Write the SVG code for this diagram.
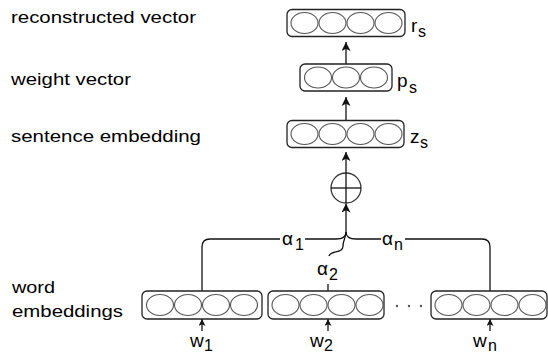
<svg xmlns="http://www.w3.org/2000/svg" width="548" height="355" viewBox="0 0 548 355">
<style>
.box{fill:#fff;stroke:#222;stroke-width:1.3}
.cell{fill:none;stroke:#555;stroke-width:1.1}
.ln{fill:none;stroke:#111;stroke-width:1.3}
.lbl{font-family:"Liberation Sans",Arial,sans-serif;font-size:17px;fill:#000}
.sym{font-family:"Liberation Sans",Arial,sans-serif;font-size:19px;fill:#000}
.sub{font-family:"Liberation Sans",Arial,sans-serif;font-size:16px;fill:#000}
</style>
<defs>
<marker id="ah" viewBox="0 0 10 10" refX="10" refY="5" markerWidth="9" markerHeight="9" markerUnits="userSpaceOnUse" orient="auto">
<path d="M0,0 L10,5 L0,10 L2.5,5 z" fill="#111"/>
</marker>
<marker id="ahs" viewBox="0 0 10 10" refX="10" refY="5" markerWidth="7" markerHeight="7" markerUnits="userSpaceOnUse" orient="auto">
<path d="M0,0 L10,5 L0,10 L2.5,5 z" fill="#111"/>
</marker>
</defs>
<rect width="548" height="355" fill="#fff"/>

<g id="labels">
<text class="lbl" x="11" y="23" textLength="185" lengthAdjust="spacingAndGlyphs">reconstructed vector</text>
<text class="lbl" x="11" y="85" textLength="120" lengthAdjust="spacingAndGlyphs">weight vector</text>
<text class="lbl" x="11" y="142" textLength="190" lengthAdjust="spacingAndGlyphs">sentence embedding</text>
<text class="lbl" x="12" y="293" textLength="43" lengthAdjust="spacingAndGlyphs">word</text>
<text class="lbl" x="12" y="317" textLength="111" lengthAdjust="spacingAndGlyphs">embeddings</text>
</g>

<g id="connectors">
<line class="ln" x1="346" y1="64" x2="346" y2="42" marker-end="url(#ah)"/>
<line class="ln" x1="346" y1="120.5" x2="346" y2="97" marker-end="url(#ah)"/>
<line class="ln" x1="346" y1="173" x2="346" y2="152" marker-end="url(#ah)"/>
<line class="ln" x1="346" y1="232" x2="346" y2="203.5" marker-end="url(#ah)"/>
<path class="ln" d="M202,291 L202,247 Q202,239 210,239 L280,239"/>
<path class="ln" d="M305,239 L336,239 C343,239 346,237 346,232"/>
<path class="ln" d="M490,291 L490,247 Q490,239 482,239 L405,239"/>
<path class="ln" d="M381,239 L356,239 C349,239 346,237 346,232"/>
<path class="ln" d="M329,256 C331,250 343,254 343,246 C343,240 346,238 346,232"/>
<line class="ln" x1="328" y1="284" x2="328" y2="291"/>
<line class="ln" x1="202" y1="331" x2="202" y2="319" marker-end="url(#ahs)"/>
<line class="ln" x1="328" y1="331" x2="328" y2="319" marker-end="url(#ahs)"/>
<line class="ln" x1="490" y1="331" x2="490" y2="319" marker-end="url(#ahs)"/>
</g>

<g id="r_s">
<rect class="box" x="287" y="9.5" width="118" height="27" rx="5"/>
<ellipse class="cell" cx="304.5" cy="23" rx="13.5" ry="10.5"/>
<ellipse class="cell" cx="332.5" cy="23" rx="13.5" ry="10.5"/>
<ellipse class="cell" cx="360.5" cy="23" rx="13.5" ry="10.5"/>
<ellipse class="cell" cx="388.5" cy="23" rx="13.5" ry="10.5"/>
<text class="sym" x="411" y="32">r</text><text class="sub" x="418" y="37">s</text>
</g>

<g id="p_s">
<rect class="box" x="300" y="64" width="92" height="27" rx="5"/>
<ellipse class="cell" cx="318" cy="77.5" rx="13.5" ry="10.5"/>
<ellipse class="cell" cx="346" cy="77.5" rx="13.5" ry="10.5"/>
<ellipse class="cell" cx="374" cy="77.5" rx="13.5" ry="10.5"/>
<text class="sym" x="397" y="87">p</text><text class="sub" x="409" y="93">s</text>
</g>

<g id="z_s">
<rect class="box" x="287" y="120.5" width="117" height="27" rx="5"/>
<ellipse class="cell" cx="304.5" cy="134" rx="13.5" ry="10.5"/>
<ellipse class="cell" cx="332.5" cy="134" rx="13.5" ry="10.5"/>
<ellipse class="cell" cx="360.5" cy="134" rx="13.5" ry="10.5"/>
<ellipse class="cell" cx="388.5" cy="134" rx="13.5" ry="10.5"/>
<text class="sym" x="410" y="143">z</text><text class="sub" x="420" y="148">s</text>
</g>

<g id="sum">
<circle cx="346" cy="188" r="15" fill="#fff" stroke="#333" stroke-width="1.3"/>
<line class="ln" x1="331" y1="188" x2="361" y2="188"/>
<line class="ln" x1="346" y1="173" x2="346" y2="203"/>
</g>

<g id="w_1">
<rect class="box" x="142" y="291" width="120" height="28" rx="5"/>
<ellipse class="cell" cx="160" cy="305" rx="13.5" ry="10.5"/>
<ellipse class="cell" cx="188" cy="305" rx="13.5" ry="10.5"/>
<ellipse class="cell" cx="216" cy="305" rx="13.5" ry="10.5"/>
<ellipse class="cell" cx="244" cy="305" rx="13.5" ry="10.5"/>
<text class="sym" x="190" y="347">w</text><text class="sub" x="204" y="351">1</text>
</g>

<g id="w_2">
<rect class="box" x="268" y="291" width="116" height="28" rx="5"/>
<ellipse class="cell" cx="285.5" cy="305" rx="13.5" ry="10.5"/>
<ellipse class="cell" cx="313.5" cy="305" rx="13.5" ry="10.5"/>
<ellipse class="cell" cx="341.5" cy="305" rx="13.5" ry="10.5"/>
<ellipse class="cell" cx="369.5" cy="305" rx="13.5" ry="10.5"/>
<text class="sym" x="310" y="347">w</text><text class="sub" x="324" y="351">2</text>
</g>

<g id="dots">
<circle cx="397" cy="306" r="1.2" fill="#555"/>
<circle cx="409" cy="306" r="1.2" fill="#555"/>
<circle cx="421" cy="306" r="1.2" fill="#555"/>
</g>

<g id="w_n">
<rect class="box" x="431" y="291" width="116" height="28" rx="5"/>
<ellipse class="cell" cx="448.5" cy="305" rx="13.5" ry="10.5"/>
<ellipse class="cell" cx="476.5" cy="305" rx="13.5" ry="10.5"/>
<ellipse class="cell" cx="504.5" cy="305" rx="13.5" ry="10.5"/>
<ellipse class="cell" cx="532.5" cy="305" rx="13.5" ry="10.5"/>
<text class="sym" x="473" y="347">w</text><text class="sub" x="488" y="351">n</text>
</g>

<g id="alphas">
<text class="sym" x="282" y="245">α</text><text class="sub" x="295" y="250">1</text>
<text class="sym" x="317" y="275">α</text><text class="sub" x="329" y="280">2</text>
<text class="sym" x="382" y="245">α</text><text class="sub" x="394" y="250">n</text>
</g>
</svg>
